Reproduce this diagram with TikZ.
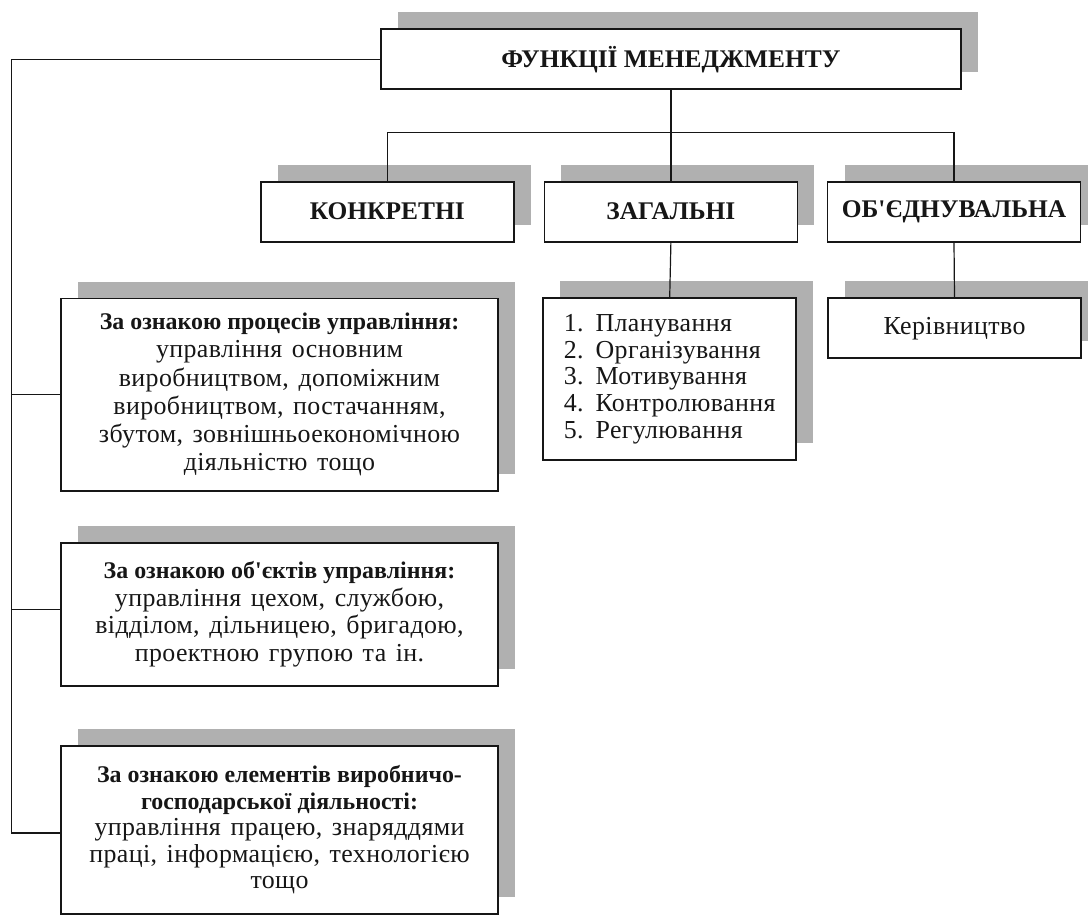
\documentclass[tikz,border=0pt]{standalone}
\usepackage{fontspec}
\setmainfont{Liberation Serif}[Ligatures=TeXOff,
  UprightFeatures={LetterSpace=1.5, WordSpace=1.4}]
\usetikzlibrary{shadows}
\definecolor{shadowgray}{RGB}{176,176,176}
\definecolor{ink}{RGB}{22,22,22}
% bold lead-in line of a criterion box
\newcommand\leadin[1]{{\fontsize{24}{28}\selectfont\bfseries #1}}
\tikzset{
  box/.style={draw=ink, line width=1.8bp, fill=white, rectangle, inner sep=0pt,
    align=center, text=ink, font=\fontsize{26}{27.5}\selectfont,
    drop shadow={shadow xshift=17bp, shadow yshift=17bp, fill=shadowgray, opacity=1}},
  headbox/.style={box, font=\fontsize{25.5}{28}\selectfont\bfseries},
  link/.style={draw=ink, line width=1.2bp}
}
\begin{document}
\begin{tikzpicture}[x=1bp, y=-1bp]
\useasboundingbox (0,0) rectangle (1088,917);

% top of the hierarchy
\node[headbox, minimum width=580bp, minimum height=60bp] (F) at (670.9,59.2) {ФУНКЦІЇ МЕНЕДЖМЕНТУ};

% three groups of functions
\node[headbox, minimum width=253bp, minimum height=60bp] (K) at (387.3,211.7) {КОНКРЕТНІ};
\node[headbox, minimum width=253bp, minimum height=60bp] (Z) at (670.9,211.7) {ЗАГАЛЬНІ};
\node[headbox, minimum width=253bp, minimum height=60bp] (O) at (954,211.7) {ОБ'ЄДНУВАЛЬНА};

% general functions list and the integrating function
\node[box, align=left, minimum width=253bp, minimum height=161.7bp, font=\fontsize{26}{26.7}\selectfont] (L) at (669.7,379.2)
  {1. Планування\\2. Організування\\3. Мотивування\\4. Контролювання\\5. Регулювання};
\node[box, minimum width=253bp, minimum height=60bp] (R) at (954.5,328.3) {Керівництво};

% specific functions, grouped by criterion
\node[box, minimum width=437.6bp, minimum height=192.2bp, font=\fontsize{26}{28.3}\selectfont] (B1) at (279.5,394.6)
  {\leadin{За ознакою процесів управління:}\\управління основним\\виробництвом, допоміжним\\виробництвом, постачанням,\\збутом, зовнішньоекономічною\\діяльністю тощо};
\node[box, minimum width=437.6bp, minimum height=143bp, font=\fontsize{26}{27.7}\selectfont] (B2) at (279.5,614.2)
  {\leadin{За ознакою об'єктів управління:}\\управління цехом, службою,\\відділом, дільницею, бригадою,\\проектною групою та ін.};
\node[box, minimum width=437.6bp, minimum height=168.3bp, font=\fontsize{26}{26.7}\selectfont] (B3) at (279.5,829.9)
  {\leadin{За ознакою елементів виробничо-}\\\leadin{господарської діяльності:}\\управління працею, знаряддями\\праці, інформацією, технологією\\тощо};

% connectors
\coordinate (lt) at (11.7,59.2);
\coordinate (bus) at (0,132.3);
\coordinate (B2w) at ([yshift=5bp]B2.west);
\draw[link] (F.west) -- (lt) |- ([yshift=-3bp]B3.west);
\draw[link] (lt |- B1.west) -- (B1.west);
\draw[link] (lt |- B2w) -- (B2w);
\draw[link] (K.north) -- (K.north |- bus) -- (O.north |- bus) -- (O.north);
\draw[link] (F.south) -- (Z.north);
\draw[link] (Z.south) -- (L.north);
\draw[link] (O.south) -- (R.north);
\end{tikzpicture}
\end{document}
